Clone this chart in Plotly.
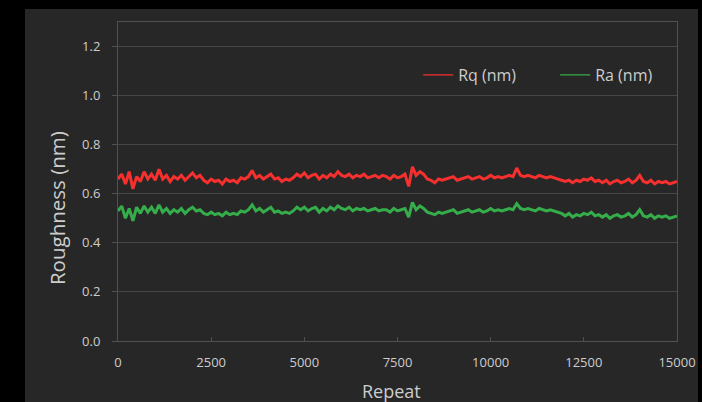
import plotly.graph_objects as go

repeat_step = 100
rq_nm = [
    0.66,0.68,0.64,0.69,0.62,0.67,0.65,0.69,0.66,0.68,
    0.655,0.70,0.66,0.675,0.65,0.67,0.66,0.675,0.655,0.67,
    0.685,0.665,0.675,0.655,0.645,0.66,0.65,0.655,0.64,0.66,
    0.65,0.655,0.645,0.665,0.66,0.67,0.695,0.665,0.675,0.66,
    0.67,0.68,0.66,0.665,0.65,0.66,0.655,0.665,0.68,0.67,
    0.685,0.665,0.675,0.68,0.66,0.675,0.665,0.68,0.67,0.69,
    0.675,0.67,0.68,0.665,0.675,0.67,0.68,0.665,0.67,0.675,
    0.665,0.675,0.67,0.66,0.675,0.665,0.67,0.68,0.63,0.71,
    0.675,0.69,0.68,0.66,0.655,0.645,0.66,0.655,0.66,0.665,
    0.67,0.655,0.66,0.665,0.67,0.66,0.665,0.67,0.66,0.665,
    0.675,0.665,0.67,0.665,0.67,0.675,0.67,0.705,0.675,0.67,
    0.675,0.67,0.665,0.675,0.67,0.665,0.67,0.665,0.66,0.655,
    0.65,0.655,0.645,0.655,0.65,0.66,0.655,0.665,0.65,0.655,
    0.645,0.655,0.64,0.65,0.655,0.645,0.65,0.66,0.645,0.655,
    0.675,0.65,0.645,0.655,0.64,0.65,0.645,0.65,0.64,0.645,0.65,
]
ra_nm = [
    0.53,0.55,0.50,0.54,0.49,0.545,0.52,0.55,0.525,0.545,
    0.52,0.555,0.525,0.54,0.52,0.535,0.525,0.54,0.52,0.535,
    0.545,0.53,0.535,0.52,0.515,0.525,0.515,0.52,0.51,0.525,
    0.515,0.52,0.515,0.53,0.525,0.535,0.555,0.53,0.54,0.525,
    0.535,0.545,0.525,0.53,0.52,0.525,0.52,0.53,0.545,0.535,
    0.545,0.53,0.54,0.545,0.525,0.54,0.53,0.545,0.535,0.55,
    0.54,0.535,0.545,0.53,0.54,0.535,0.54,0.53,0.535,0.54,
    0.53,0.535,0.535,0.525,0.54,0.53,0.535,0.54,0.505,0.565,
    0.535,0.55,0.54,0.525,0.52,0.515,0.525,0.52,0.525,0.53,
    0.535,0.52,0.525,0.53,0.535,0.525,0.53,0.535,0.525,0.53,
    0.54,0.53,0.535,0.53,0.535,0.54,0.535,0.56,0.54,0.535,
    0.54,0.535,0.53,0.54,0.535,0.53,0.535,0.53,0.525,0.52,
    0.51,0.52,0.505,0.515,0.51,0.52,0.515,0.525,0.51,0.515,
    0.505,0.515,0.50,0.51,0.515,0.505,0.51,0.52,0.505,0.515,
    0.535,0.51,0.505,0.515,0.50,0.51,0.505,0.51,0.50,0.505,0.51,
]
repeats = [i * repeat_step for i in range(len(rq_nm))]
series_names = ["Rq (nm)", "Ra (nm)"]
x_ticks = [0, 2500, 5000, 7500, 10000, 12500, 15000]
y_ticks = [0.0, 0.2, 0.4, 0.6, 0.8, 1.0, 1.2]

panel = "#272727"
text_col = "#cdcdcd"
font = "Open Sans"
colors = ["#f5302e", "#35ad4a"]

fig = go.Figure()
for name, vals, col in zip(series_names, [rq_nm, ra_nm], colors):
    fig.add_trace(go.Scatter(x=repeats, y=vals, mode="lines", name=name,
                             legendgroup=name, showlegend=False,
                             line=dict(color=col, width=3)))
for name, col in zip(series_names, colors):
    # thin legend sample, as in the original legend
    fig.add_trace(go.Scatter(x=[None], y=[None], mode="lines", name=name,
                             legendgroup=name, showlegend=True,
                             line=dict(color=col, width=1.2)))

fig.add_shape(type="rect", xref="paper", yref="paper",
              x0=-0.1664, x1=1.0376, y0=-0.25, y1=1.0408,
              fillcolor=panel, line=dict(width=0), layer="below")

fig.add_annotation(text="Roughness (nm)", xref="paper", yref="paper",
                   x=-0.109, y=0.417, xanchor="center", yanchor="middle",
                   textangle=-90, showarrow=False,
                   font=dict(size=20.5, color=text_col, family=font))
fig.add_annotation(text="Repeat", xref="paper", yref="paper",
                   x=0.490, y=-0.158, xanchor="center", yanchor="middle",
                   showarrow=False,
                   font=dict(size=18, color=text_col, family=font))

fig.update_layout(
    width=702, height=402,
    margin=dict(l=118, r=25, t=22, b=61, autoexpand=False),
    paper_bgcolor="black", plot_bgcolor=panel,
    font=dict(family=font, color=text_col, size=12),
    showlegend=True,
    legend=dict(orientation="h", x=0.537, y=0.834, xanchor="left", yanchor="middle",
                bgcolor="rgba(0,0,0,0)", font=dict(size=16, color=text_col),
                itemwidth=30, entrywidth=92, entrywidthmode="pixels"),
    xaxis=dict(range=[0, 15000], tickvals=x_ticks, ticktext=[str(v) for v in x_ticks],
               showgrid=False, zeroline=False, showline=True, linecolor="#515151",
               linewidth=1, mirror=True, ticks="inside", ticklen=4, tickcolor="#515151",
               ticklabelstandoff=9,
               automargin=False, tickfont=dict(size=13, color=text_col)),
    yaxis=dict(range=[0, 1.3], tickvals=y_ticks, ticktext=["%.1f" % v for v in y_ticks],
               showgrid=True, gridcolor="#474747", gridwidth=1, zeroline=False,
               showline=True, linecolor="#515151", linewidth=1, mirror=True,
               ticks="outside", ticklen=5, tickcolor="#515151", automargin=False,
               ticklabelstandoff=9,
               tickfont=dict(size=13, color=text_col)),
)

fig.write_html("out.html", config={"displayModeBar": False},
               post_script="document.body.style.margin='0';document.body.style.background='black';")
